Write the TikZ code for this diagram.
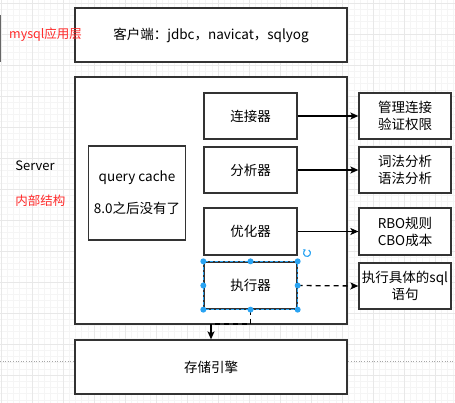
\documentclass[tikz,border=0pt]{standalone}
\usepackage{fontspec}
\setmainfont{Noto Sans CJK SC}
\usetikzlibrary{arrows.meta,calc}
\definecolor{boxline}{HTML}{333333}
\definecolor{selblue}{HTML}{29A3F2}
\definecolor{redtxt}{HTML}{FF2A2A}
\tikzset{
  box/.style={draw=boxline, line width=1.3pt, fill=white, inner sep=0pt, align=center,
    font=\fontsize{13.5}{17}\selectfont},
  lbl/.style={inner sep=0pt, font=\fontsize{12.5}{15}\selectfont},
  arr/.style={line width=1.3pt, -{Stealth[length=8pt,width=7pt,inset=2pt]}},
  handle/.style={circle, fill=selblue, inner sep=0pt, minimum size=6pt},
}
\begin{document}
\begin{tikzpicture}[x=1pt,y=-1pt]
\useasboundingbox (0,0) rectangle (455,403);
\fill[white] (0,0) rectangle (455,403);
% faint grid
\foreach \i in {0,...,73} {\draw[black!4, line width=0.4pt] ({1+\i*6.2},0) -- ({1+\i*6.2},403);}
\foreach \i in {0,...,65} {\draw[black!4, line width=0.4pt] (0,{3+\i*6.2}) -- (455,{3+\i*6.2});}
\foreach \i in {0,...,14} {\draw[black!9, line width=0.5pt] ({1+\i*31},0) -- ({1+\i*31},403);}
\foreach \i in {0,...,13} {\draw[black!9, line width=0.5pt] (0,{3+\i*31}) -- (455,{3+\i*31});}
\draw[black!35, dotted, line width=0.6pt] (0,361) -- (455,361);
\draw[black!60, line width=1pt] (0.5,15) -- (0.5,62);

% main boxes
\node[box, minimum width=272pt, minimum height=54pt] (client) at (211,35) {客户端：jdbc，navicat，sqlyog};
\node[box, minimum width=272pt, minimum height=247pt] (server) at (211,200.5) {};
\node[box, minimum width=272pt, minimum height=54pt] (store) at (211,367) {存储引擎};

% inner boxes
\node[box, minimum width=93pt, minimum height=46pt] (conn) at (250.5,116) {连接器};
\node[box, minimum width=93pt, minimum height=46pt] (anal) at (250.5,170) {分析器};
\node[box, minimum width=93pt, minimum height=47pt] (opt) at (250.5,231.5) {优化器};
\node[box, minimum width=93pt, minimum height=47pt] (exec) at (250.5,285.5) {执行器};
\node[box, minimum width=97pt, minimum height=94pt] (cache) at (137,193) {query cache\\[15pt]8.0之后没有了};

% right boxes
\node[box, minimum width=92pt, minimum height=46pt] (r1) at (405,116) {管理连接\\验证权限};
\node[box, minimum width=92pt, minimum height=46pt] (r2) at (405,170) {词法分析\\语法分析};
\node[box, minimum width=92pt, minimum height=47pt] (r3) at (405,231.5) {RBO规则\\CBO成本};
\node[box, minimum width=92pt, minimum height=46pt] (r4) at (405,286) {执行具体的sql\\语句};

% side labels
\node[lbl, text=redtxt, anchor=west] (lapp) at (9,35) {mysql应用层};
\node[lbl, font=\fontsize{13}{15}\selectfont] (lsrv) at (35,166) {Server};
\node[lbl, text=redtxt] (linn) at (40.5,201) {内部结构};

% connectors
\draw[arr] (conn.east) -- (r1.west);
\draw[arr] (anal.east) -- (r2.west);
\draw[arr] (opt.east) -- (r3.west);
\draw[arr, dashed, dash pattern=on 5pt off 4pt] (exec.east) -- (r4.west);
\coordinate (bend) at (211,324);
\draw[line width=1.3pt, dashed, dash pattern=on 5pt off 4pt] (exec.south) |- (bend);
\draw[arr] (bend) -- (store.north);

% selection overlay on exec
\draw[selblue, line width=0.8pt, dashed, dash pattern=on 3pt off 2pt] (exec.south west) rectangle (exec.north east);
\foreach \a in {north west, north, north east, west, east, south west, south, south east}
  {\node[handle] at (exec.\a) {};}
\coordinate (rot) at (307,253);
\draw[selblue, line width=1.1pt, -{Stealth[length=2.5pt,width=3pt]}] ($(rot)+(60:3.5pt)$) arc[start angle=60, end angle=-250, radius=3.5pt];
\end{tikzpicture}
\end{document}
